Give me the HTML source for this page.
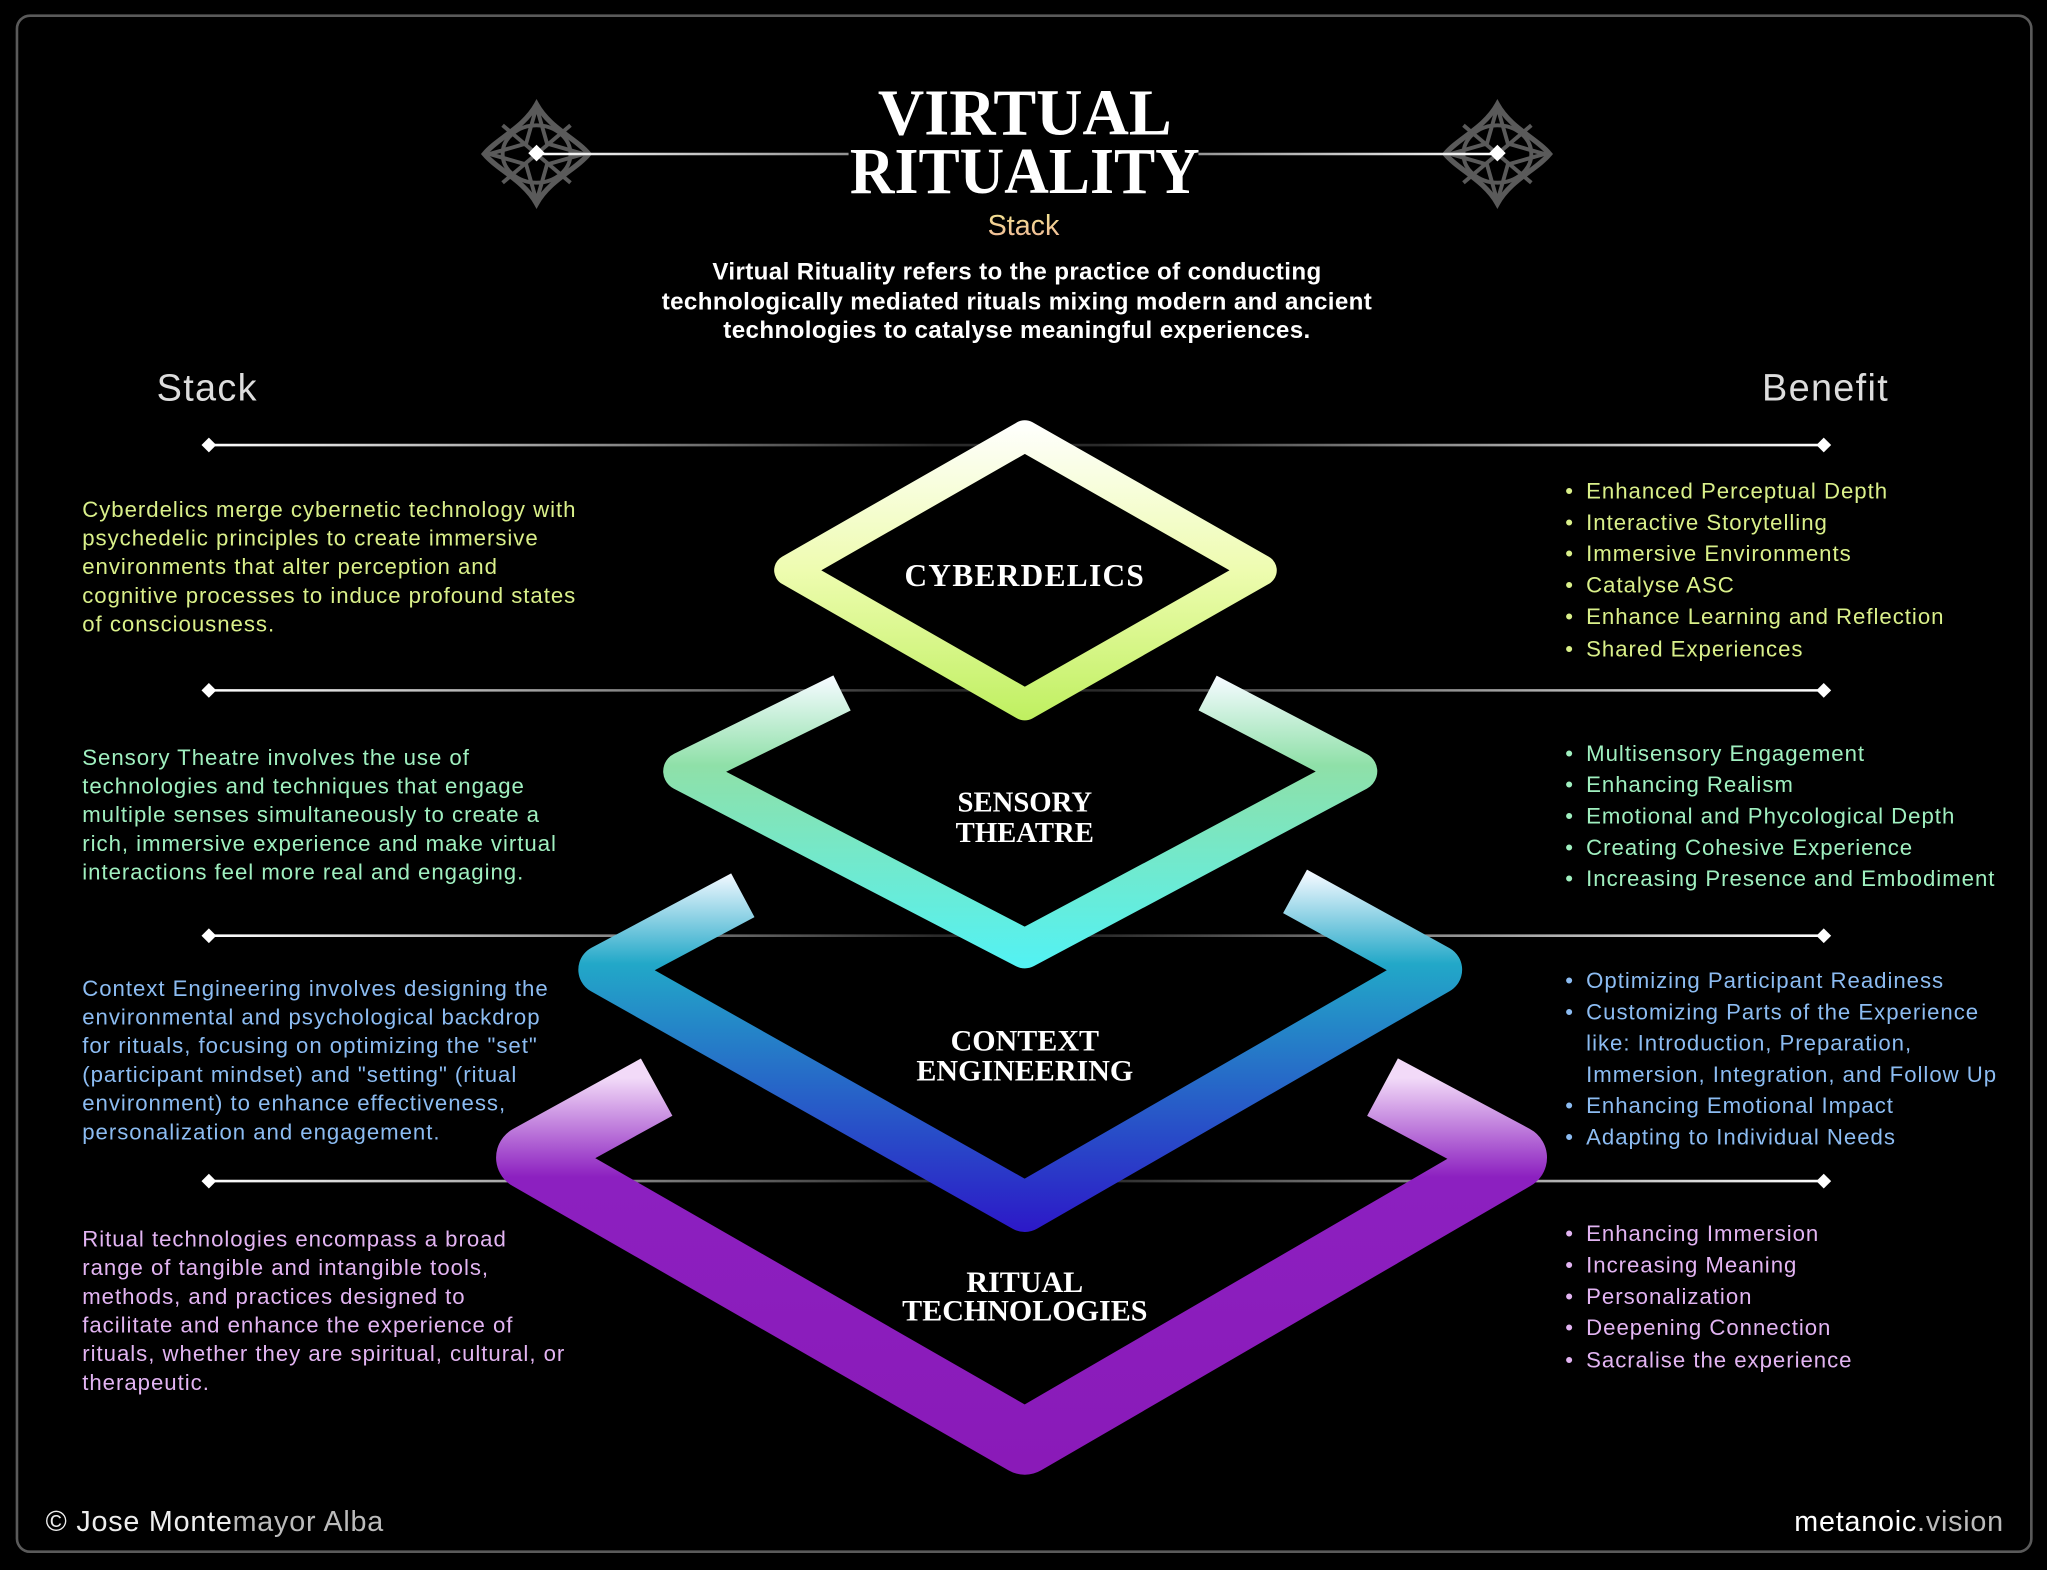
<!DOCTYPE html>
<html><head><meta charset="utf-8"><style>
html,body{margin:0;padding:0;background:#000;}
svg{display:block;}
.sans{font-family:"Liberation Sans","DejaVu Sans",sans-serif;}
.serif{font-family:"Liberation Serif","DejaVu Serif",serif;}
</style></head><body>
<svg width="2047" height="1570" viewBox="0 0 1568 1203" preserveAspectRatio="none" xmlns="http://www.w3.org/2000/svg">
<defs>
<linearGradient id="hl" x1="160" y1="0" x2="1397" y2="0" gradientUnits="userSpaceOnUse">
<stop offset="0" stop-color="#fff"/><stop offset="0.45" stop-color="#2a2a2a"/><stop offset="0.55" stop-color="#2a2a2a"/><stop offset="1" stop-color="#fff"/></linearGradient>
<linearGradient id="tl" x1="411" y1="0" x2="1147" y2="0" gradientUnits="userSpaceOnUse">
<stop offset="0" stop-color="#fff"/><stop offset="0.5" stop-color="#555"/><stop offset="1" stop-color="#fff"/></linearGradient>
<linearGradient id="g1" x1="0" y1="322" x2="0" y2="552" gradientUnits="userSpaceOnUse">
<stop offset="0" stop-color="#ffffff"/><stop offset="0.5" stop-color="#eefcb0"/><stop offset="1" stop-color="#bff060"/></linearGradient>
<linearGradient id="g2" x1="0" y1="520" x2="0" y2="742" gradientUnits="userSpaceOnUse">
<stop offset="0" stop-color="#f4fbff"/><stop offset="0.3" stop-color="#8fe0a8"/><stop offset="1" stop-color="#52f2f4"/></linearGradient>
<linearGradient id="g3" x1="0" y1="670" x2="0" y2="944" gradientUnits="userSpaceOnUse">
<stop offset="0" stop-color="#f0f8ff"/><stop offset="0.25" stop-color="#22a8c8"/><stop offset="1" stop-color="#2c18c8"/></linearGradient>
<linearGradient id="g4" x1="0" y1="826" x2="0" y2="1130" gradientUnits="userSpaceOnUse">
<stop offset="0" stop-color="#f2daf8"/><stop offset="0.25" stop-color="#8c20c0"/><stop offset="1" stop-color="#8a1ab8"/></linearGradient>
<linearGradient id="stk" x1="0" y1="160" x2="0" y2="184" gradientUnits="userSpaceOnUse">
<stop offset="0" stop-color="#f4e890"/><stop offset="1" stop-color="#f0b898"/></linearGradient>
<g id="orn" fill="none" stroke="#5a5a5a" stroke-width="3">
<path d="M0,-38 C-10,-20 -30,-12 -40,0 C-30,12 -10,20 0,38 C10,20 30,12 40,0 C30,-12 10,-20 0,-38Z" stroke-width="4"/>
<path d="M0,-36 L8,-8 L36,0 L8,8 L0,36 L-8,8 L-36,0 L-8,-8Z"/>
<ellipse cx="0" cy="0" rx="26" ry="22"/>
<path d="M-26,-22 L26,22 M26,-22 L-26,22"/>
</g>
</defs>
<rect x="13" y="12" width="1543" height="1177" rx="10" fill="#000" stroke="#5a5a5a" stroke-width="2"/>

<use href="#orn" x="411" y="118"/>
<use href="#orn" x="1147" y="118"/>
<line x1="411" y1="118" x2="1147" y2="118" stroke="url(#tl)" stroke-width="2"/>
<rect x="406" y="113" width="9" height="9" fill="#fff" transform="rotate(45 411 118)"/>
<rect x="1142" y="113" width="9" height="9" fill="#fff" transform="rotate(45 1147 118)"/>
<rect x="650" y="60" width="268" height="96" fill="#000"/>
<text x="785" y="103" text-anchor="middle" class="serif" font-size="50" fill="#fff" font-weight="bold" textLength="225" lengthAdjust="spacingAndGlyphs">VIRTUAL</text>
<text x="785" y="148" text-anchor="middle" class="serif" font-size="50" fill="#fff" font-weight="bold" textLength="268" lengthAdjust="spacingAndGlyphs">RITUALITY</text>
<text x="784" y="180" text-anchor="middle" class="sans" font-size="22" fill="url(#stk)">Stack</text>
<g class="sans" font-size="18.5" fill="#fff" text-anchor="middle" font-weight="bold" letter-spacing="0.3">
<text x="779" y="214">Virtual Rituality refers to the practice of conducting</text>
<text x="779" y="237">technologically mediated rituals mixing modern and ancient</text>
<text x="779" y="259">technologies to catalyse meaningful experiences.</text>
</g>
<text x="120" y="307" class="sans" font-size="29" fill="#ddd" letter-spacing="1">Stack</text>
<text x="1447" y="307" text-anchor="end" class="sans" font-size="29" fill="#ddd" letter-spacing="1">Benefit</text>

<g stroke="url(#hl)" stroke-width="2">
<line x1="160" y1="341" x2="1397" y2="341"/>
<line x1="160" y1="529" x2="1397" y2="529"/>
<line x1="160" y1="717" x2="1397" y2="717"/>
<line x1="160" y1="905" x2="1397" y2="905"/>
</g>
<g fill="#fff">
<rect x="156" y="337" width="8" height="8" transform="rotate(45 160 341)"/>
<rect x="1393" y="337" width="8" height="8" transform="rotate(45 1397 341)"/>
<rect x="156" y="525" width="8" height="8" transform="rotate(45 160 529)"/>
<rect x="1393" y="525" width="8" height="8" transform="rotate(45 1397 529)"/>
<rect x="156" y="713" width="8" height="8" transform="rotate(45 160 717)"/>
<rect x="1393" y="713" width="8" height="8" transform="rotate(45 1397 717)"/>
<rect x="156" y="901" width="8" height="8" transform="rotate(45 160 905)"/>
<rect x="1393" y="901" width="8" height="8" transform="rotate(45 1397 905)"/>
</g>

<path d="M785,334 L605,437 L785,540 L966,437Z" fill="#000" stroke="url(#g1)" stroke-width="24" stroke-linejoin="round"/>
<path d="M645,531 L523,591 L785,727 L1040,591 L925,531" fill="none" stroke="url(#g2)" stroke-width="30" stroke-linejoin="round"/>
<path d="M569,686 L462,743 L785,925 L1101,743 L992,683" fill="none" stroke="url(#g3)" stroke-width="38" stroke-linejoin="round"/>
<path d="M503,833 L405,887 L785,1105 L1160,887 L1059,833" fill="none" stroke="url(#g4)" stroke-width="50" stroke-linejoin="round"/>

<g class="serif" fill="#fff" text-anchor="middle" font-weight="bold">
<text x="785" y="449" font-size="24" letter-spacing="1">CYBERDELICS</text>
<text x="785" y="622" font-size="22">SENSORY</text>
<text x="785" y="645" font-size="22">THEATRE</text>
<text x="785" y="805" font-size="23">CONTEXT</text>
<text x="785" y="828" font-size="23">ENGINEERING</text>
<text x="785" y="990" font-size="23">RITUAL</text>
<text x="785" y="1012" font-size="23">TECHNOLOGIES</text>
</g>

<g class="sans" font-size="17" letter-spacing="0.75">
<g fill="#daf08a">
<text x="63" y="396">Cyberdelics merge cybernetic technology with</text>
<text x="63" y="418">psychedelic principles to create immersive</text>
<text x="63" y="440">environments that alter perception and</text>
<text x="63" y="462">cognitive processes to induce profound states</text>
<text x="63" y="484">of consciousness.</text>
</g>
<g fill="#a0f0c0">
<text x="63" y="586">Sensory Theatre involves the use of</text>
<text x="63" y="608">technologies and techniques that engage</text>
<text x="63" y="630">multiple senses simultaneously to create a</text>
<text x="63" y="652">rich, immersive experience and make virtual</text>
<text x="63" y="674">interactions feel more real and engaging.</text>
</g>
<g fill="#8cbcf2">
<text x="63" y="763">Context Engineering involves designing the</text>
<text x="63" y="785">environmental and psychological backdrop</text>
<text x="63" y="807">for rituals, focusing on optimizing the "set"</text>
<text x="63" y="829">(participant mindset) and "setting" (ritual</text>
<text x="63" y="851">environment) to enhance effectiveness,</text>
<text x="63" y="873">personalization and engagement.</text>
</g>
<g fill="#e2b4f2">
<text x="63" y="955">Ritual technologies encompass a broad</text>
<text x="63" y="977">range of tangible and intangible tools,</text>
<text x="63" y="999">methods, and practices designed to</text>
<text x="63" y="1021">facilitate and enhance the experience of</text>
<text x="63" y="1043">rituals, whether they are spiritual, cultural, or</text>
<text x="63" y="1065">therapeutic.</text>
</g>
</g>

<g class="sans" font-size="17" letter-spacing="0.75">
<g fill="#daf08a">
<text x="1199" y="382">•</text><text x="1215" y="382">Enhanced Perceptual Depth</text>
<text x="1199" y="406">•</text><text x="1215" y="406">Interactive Storytelling</text>
<text x="1199" y="430">•</text><text x="1215" y="430">Immersive Environments</text>
<text x="1199" y="454">•</text><text x="1215" y="454">Catalyse ASC</text>
<text x="1199" y="478">•</text><text x="1215" y="478">Enhance Learning and Reflection</text>
<text x="1199" y="503">•</text><text x="1215" y="503">Shared Experiences</text>
</g>
<g fill="#a0f0c0">
<text x="1199" y="583">•</text><text x="1215" y="583">Multisensory Engagement</text>
<text x="1199" y="607">•</text><text x="1215" y="607">Enhancing Realism</text>
<text x="1199" y="631">•</text><text x="1215" y="631">Emotional and Phycological Depth</text>
<text x="1199" y="655">•</text><text x="1215" y="655">Creating Cohesive Experience</text>
<text x="1199" y="679">•</text><text x="1215" y="679">Increasing Presence and Embodiment</text>
</g>
<g fill="#8cbcf2">
<text x="1199" y="757">•</text><text x="1215" y="757">Optimizing Participant Readiness</text>
<text x="1199" y="781">•</text><text x="1215" y="781">Customizing Parts of the Experience</text>
<text x="1215" y="805">like: Introduction, Preparation,</text>
<text x="1215" y="829">Immersion, Integration, and Follow Up</text>
<text x="1199" y="853">•</text><text x="1215" y="853">Enhancing Emotional Impact</text>
<text x="1199" y="877">•</text><text x="1215" y="877">Adapting to Individual Needs</text>
</g>
<g fill="#e2b4f2">
<text x="1199" y="951">•</text><text x="1215" y="951">Enhancing Immersion</text>
<text x="1199" y="975">•</text><text x="1215" y="975">Increasing Meaning</text>
<text x="1199" y="999">•</text><text x="1215" y="999">Personalization</text>
<text x="1199" y="1023">•</text><text x="1215" y="1023">Deepening Connection</text>
<text x="1199" y="1048">•</text><text x="1215" y="1048">Sacralise the experience</text>
</g>
</g>

<text x="35" y="1173" class="sans" font-size="22" fill="#eee" letter-spacing="0.6">© Jose Monte<tspan fill="#bbb">mayor Alba</tspan></text>
<text x="1535" y="1173" text-anchor="end" class="sans" font-size="22" fill="#fff" letter-spacing="0.6">metanoic<tspan fill="#bbb">.vision</tspan></text>
</svg>
</body></html>
